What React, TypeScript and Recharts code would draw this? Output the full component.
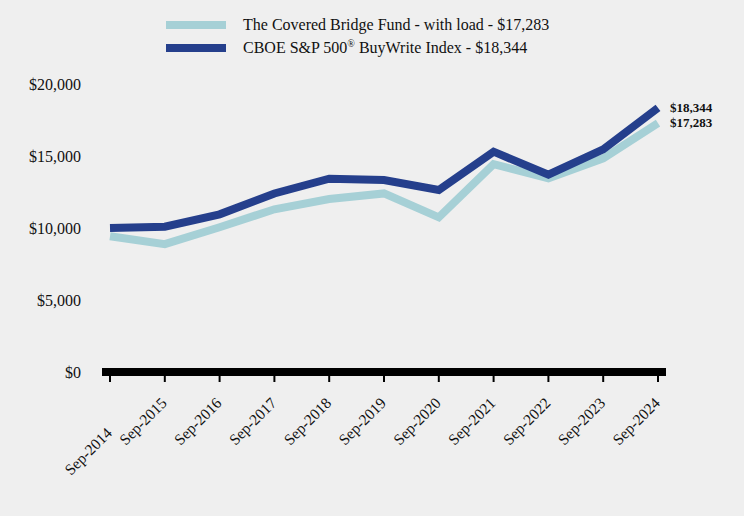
import React from "react";
import { LineChart, Line, XAxis, YAxis } from "recharts";

const periods = [
  "Sep-2014", "Sep-2015", "Sep-2016", "Sep-2017", "Sep-2018", "Sep-2019",
  "Sep-2020", "Sep-2021", "Sep-2022", "Sep-2023", "Sep-2024",
];
const fundWithLoad = [9425, 8880, 10050, 11300, 12010, 12400, 10740, 14440, 13450, 14840, 17283];
const buyWriteIndex = [10000, 10090, 10950, 12400, 13420, 13330, 12640, 15300, 13700, 15460, 18344];
const yTicks = [0, 5000, 10000, 15000, 20000];

const FUND_COLOR = "#a6d0d6";
const INDEX_COLOR = "#253f8c";
const FONT = "'Liberation Serif', 'Times New Roman', serif";

const data = periods.map((p, i) => ({
  period: p,
  fund: fundWithLoad[i],
  index: buyWriteIndex[i],
}));

const money = (v: number) => "$" + v.toLocaleString("en-US");

// rotated date labels; the first one sits lower so it clears the "$0" label
const DateTick = ({ x, y, payload, index }: any) => {
  const drop = index === 0 ? 30 : 0;
  return (
    <g transform={`translate(${x + 3},${y + 20 + drop})`}>
      <text
        transform="rotate(-45)"
        textAnchor="end"
        fill="#111"
        fontSize={15.5}
        fontFamily={FONT}
      >
        {payload.value}
      </text>
    </g>
  );
};

const endLabel = (n: number) => (props: any) => {
  if (props.index !== n - 1) return null;
  return (
    <text
      x={props.x + 12}
      y={props.y}
      dy={4}
      fontSize={13}
      fontWeight="bold"
      fontFamily={FONT}
      fill="#111"
    >
      {money(props.value)}
    </text>
  );
};

export default function App() {
  return (
    <div
      style={{
        position: "fixed",
        top: 0,
        left: 0,
        width: 744,
        height: 516,
        background: "#efefef",
        fontFamily: FONT,
      }}
    >
      {/* Legend */}
      <div style={{ position: "absolute", left: 166, top: 13, fontSize: 16, color: "#111" }}>
        <div style={{ display: "flex", alignItems: "center", height: 23 }}>
          <span style={{ display: "inline-block", width: 60, height: 8, background: FUND_COLOR }} />
          <span style={{ marginLeft: 17 }}>The Covered Bridge Fund - with load - $17,283</span>
        </div>
        <div style={{ display: "flex", alignItems: "center", height: 23 }}>
          <span style={{ display: "inline-block", width: 60, height: 8, background: INDEX_COLOR }} />
          <span style={{ marginLeft: 17 }}>
            CBOE S&amp;P 500<sup style={{ fontSize: 10 }}>®</sup> BuyWrite Index - $18,344
          </span>
        </div>
      </div>

      <LineChart
        width={744}
        height={516}
        data={data}
        margin={{ top: 84, right: 78, left: 0, bottom: 44 }}
      >
        <XAxis
          dataKey="period"
          padding={{ left: 8, right: 8 }}
          axisLine={{ stroke: "#000", strokeWidth: 8 }}
          tickLine={{ stroke: "#000", strokeWidth: 2 }}
          tickSize={10}
          interval={0}
          height={100}
          tick={<DateTick />}
        />
        <YAxis
          domain={[0, 20000]}
          ticks={yTicks}
          width={102}
          axisLine={false}
          tickLine={false}
          tickSize={0}
          tickMargin={21}
          tickFormatter={money}
          tick={{ fill: "#111", fontSize: 16, fontFamily: FONT }}
        />
        <Line
          type="linear"
          dataKey="fund"
          stroke={FUND_COLOR}
          strokeWidth={8}
          dot={false}
          isAnimationActive={false}
          label={endLabel(data.length)}
        />
        <Line
          type="linear"
          dataKey="index"
          stroke={INDEX_COLOR}
          strokeWidth={8}
          dot={false}
          isAnimationActive={false}
          label={endLabel(data.length)}
        />
      </LineChart>
    </div>
  );
}
